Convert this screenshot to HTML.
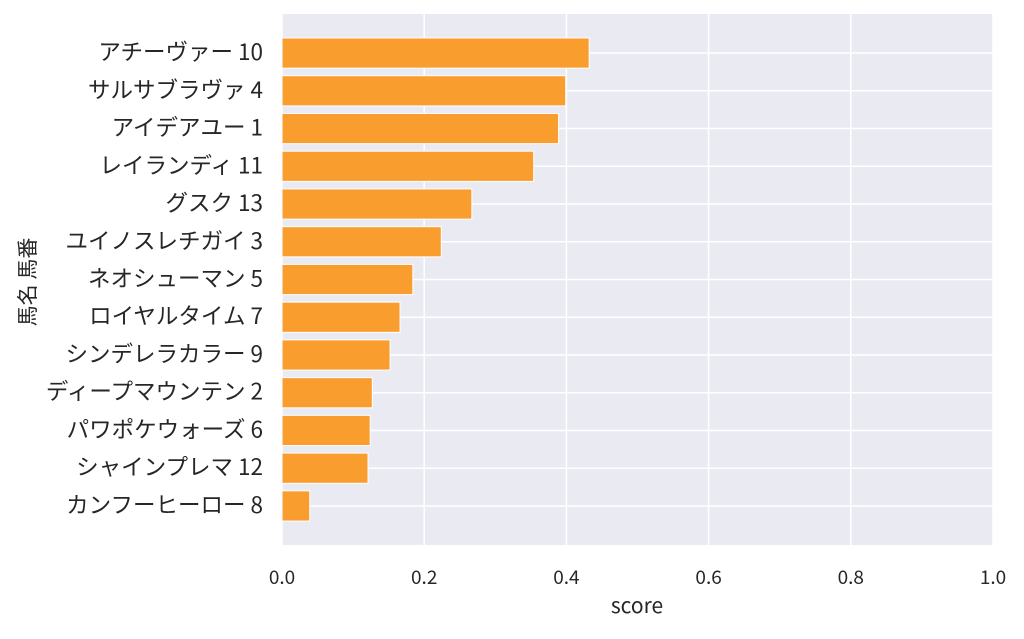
<!DOCTYPE html>
<html><head><meta charset="utf-8"><style>
body{margin:0;background:#fff;}
svg text{font-family:"Noto Sans CJK JP","Liberation Sans",sans-serif;fill:#262626;}
</style></head><body>
<svg width="1024" height="634">
<rect x="282" y="14" width="711" height="531" fill="#eaeaf2"/>
<g id="grid"></g><g id="bars"></g><g id="labels"></g>
<text x="637" y="613" font-size="21" text-anchor="middle">score</text>
<text x="0" y="0" font-size="21" text-anchor="middle" transform="translate(35,282) rotate(-90)">馬名 馬番</text>
</svg>
<script>
const categories=["アチーヴァー 10","サルサブラヴァ 4","アイデアユー 1","レイランディ 11","グスク 13","ユイノスレチガイ 3","ネオシューマン 5","ロイヤルタイム 7","シンデレラカラー 9","ディープマウンテン 2","パワポケウォーズ 6","シャインプレマ 12","カンフーヒーロー 8"];
const values=[0.432,0.399,0.389,0.354,0.267,0.224,0.184,0.166,0.152,0.127,0.124,0.121,0.039];
const xTicks=[0,0.2,0.4,0.6,0.8,1.0];
const xTickLabels=["0.0","0.2","0.4","0.6","0.8","1.0"];
const NS="http://www.w3.org/2000/svg";
const L=282,W=711,T=14,H=531,n=categories.length;
const step=H/(n-1+2.07);
const xs=v=>L+v*W;
const yc=i=>T+step*1.035+step*i;
const grid=document.getElementById('grid'),bars=document.getElementById('bars'),lab=document.getElementById('labels');
function mk(tag,attrs,parent){const e=document.createElementNS(NS,tag);for(const k in attrs)e.setAttribute(k,attrs[k]);parent.appendChild(e);return e;}
xTicks.forEach((t,i)=>{
 const g=mk('line',{x1:xs(t),x2:xs(t),y1:T,y2:T+H,stroke:'#fff','stroke-width':1.5},grid);
 
 
 const tx=mk('text',{x:xs(t),y:584,'font-size':19,'text-anchor':'middle'},lab);
 tx.textContent=xTickLabels[i];
 
 
});
categories.forEach((c,i)=>{
 const g=mk('line',{x1:L,x2:L+W,y1:yc(i),y2:yc(i),stroke:'#fff','stroke-width':1.5},grid);
 
 
 const bh=step*0.8;
 const r=mk('rect',{x:L,y:yc(i)-bh/2,width:xs(values[i])-L,height:bh,fill:'#f99d2f',stroke:'#fff','stroke-width':1},bars);
 
 
 const t=mk('text',{x:L-19,y:yc(i)+7,'font-size':22.5,'text-anchor':'end'},lab);
 t.textContent=c;
 
 
});
</script>
</body></html>
